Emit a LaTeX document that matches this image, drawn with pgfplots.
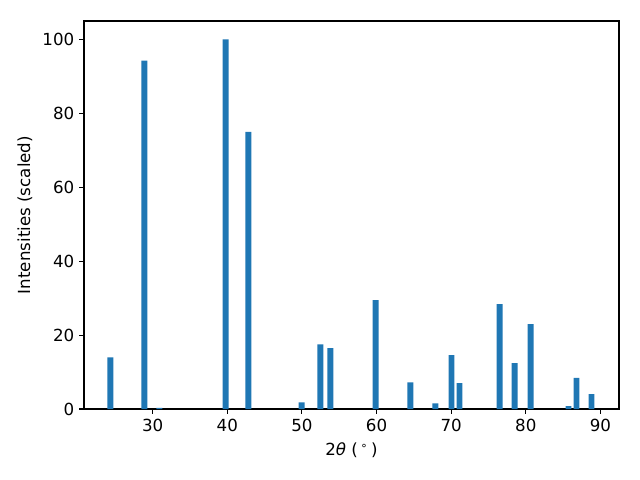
\documentclass[border=0pt]{standalone}
\usepackage{pgfplots}
\pgfplotsset{compat=1.18}
\usepackage{fontspec}
\setmainfont{DejaVu Sans}
\definecolor{mplblue}{HTML}{1F77B4}
\begin{document}
\begin{tikzpicture}
\useasboundingbox (-60.5pt,-51.1pt) rectangle (400.3pt,294.5pt);
\begin{axis}[
  scale only axis,
  width=385.2pt, height=279.4pt,
  xmin=20.8, xmax=92.5,
  ymin=0, ymax=105,
  xtick={30,40,50,60,70,80,90},
  ytick={0,20,40,60,80,100},
  tick align=outside,
  tick pos=left,
  major tick length=3.5pt,
  every tick/.style={black, line width=0.8pt},
  axis line style={line width=0.8pt},
  /pgf/number format/assume math mode=true,
  ticklabel style={font=\fontsize{12pt}{14pt}\selectfont},
  xlabel={2\textit{θ} (\,\textsuperscript{∘}\,)},
  ylabel={Intensities (scaled)},
  label style={font=\fontsize{12pt}{14pt}\selectfont},
  xlabel style={yshift=-1pt},
  ylabel style={yshift=0.5pt},
]
\addplot[ybar, bar width=0.8, bar shift=0pt, fill=mplblue, draw=none] coordinates {
(24.33,14.0) (28.88,94.3) (30.89,0.3) (39.78,100) (42.83,75.0)
(49.95,1.8) (52.48,17.5) (53.82,16.5) (59.88,29.5) (64.55,7.2)
(67.9,1.5) (70.05,14.6) (71.12,7.0) (76.5,28.4) (78.5,12.4)
(80.65,23.0) (85.73,0.8) (86.8,8.4) (88.81,4.0)
};
\end{axis}
\end{tikzpicture}
\end{document}
